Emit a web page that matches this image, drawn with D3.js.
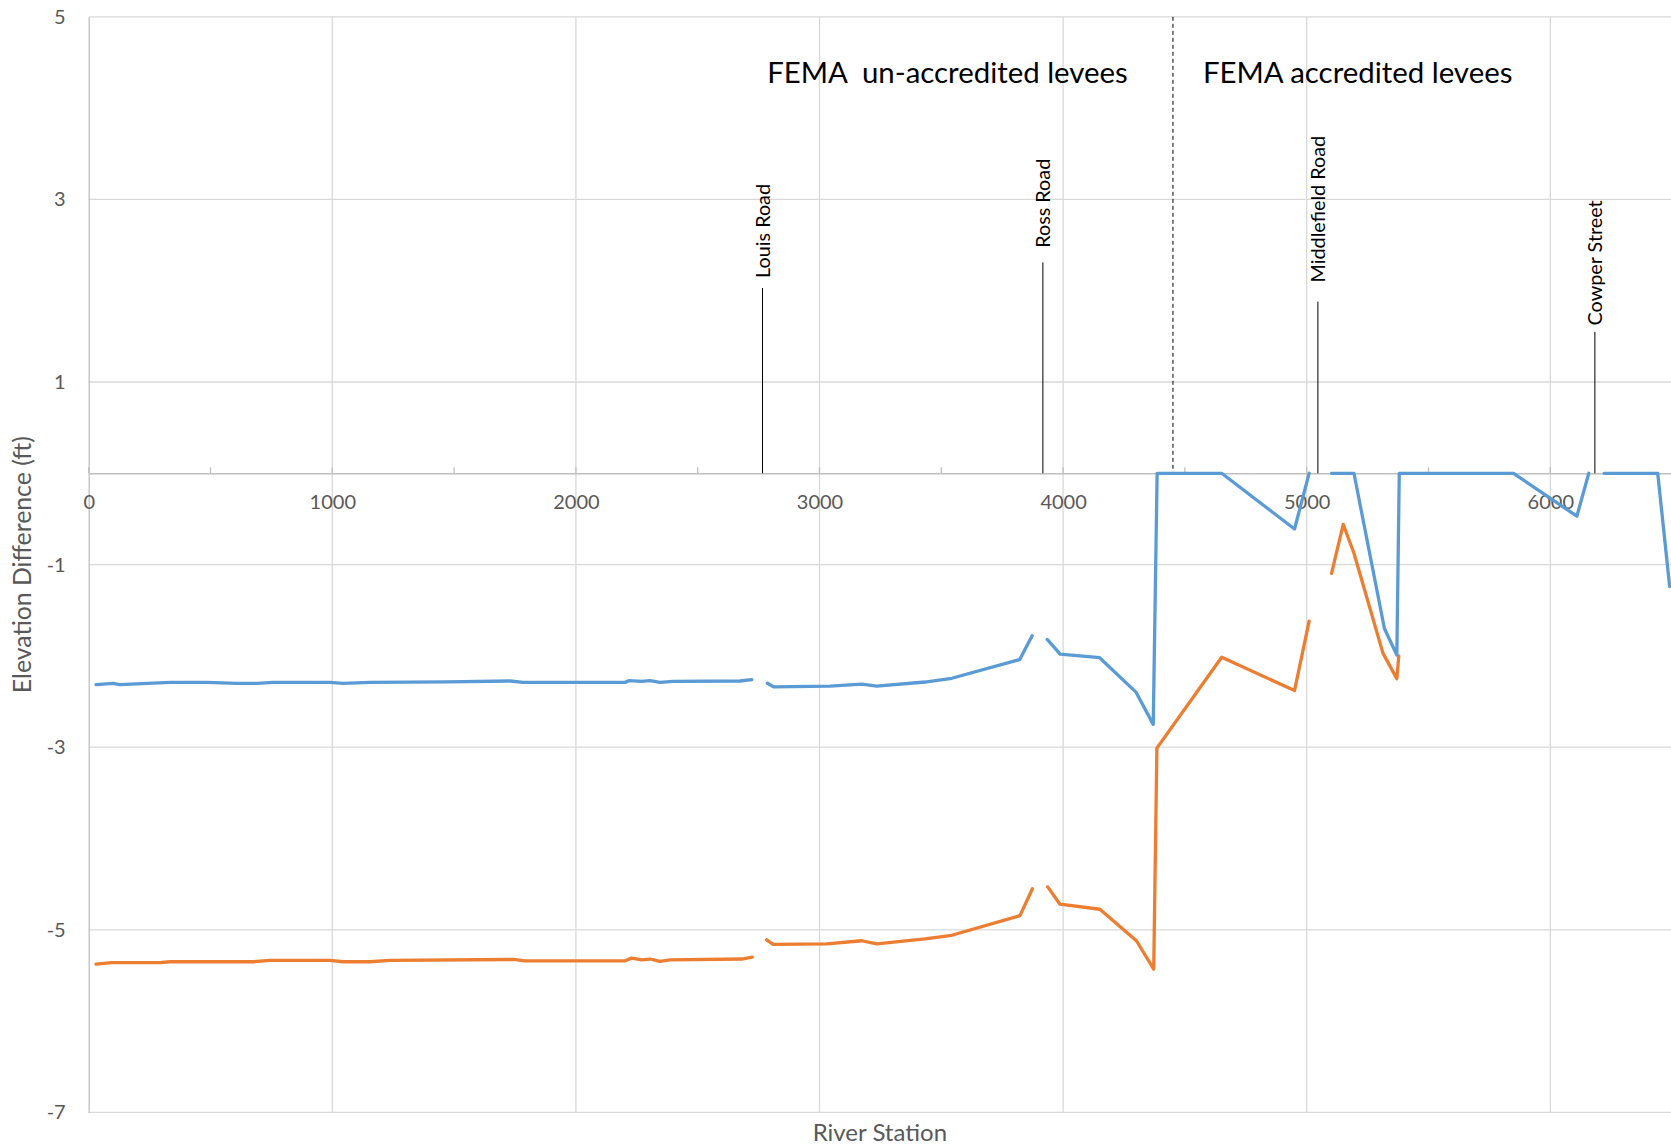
<!DOCTYPE html>
<html>
<head>
<meta charset="utf-8">
<script src="https://cdn.jsdelivr.net/npm/d3@7/dist/d3.min.js"></script>
<style>
  html, body { margin: 0; padding: 0; background: #ffffff; }
  svg { display: block; font-family: Lato, "Open Sans", sans-serif; }
</style>
</head>
<body>
<svg id="chart" width="1671" height="1148"></svg>
<script>
// Elevation difference along the river (ft); null marks a break in the profile
const upperStations = [30, 101, 128, 334, 484, 607, 690, 758, 990, 1045,
  1155, 1470, 1729, 1784, 2202, 2219, 2270, 2304, 2345, 2400,
  2674, 2722, 2754, 2786, 2813, 3043, 3173, 3235, 3433, 3543,
  3822, 3873, 3904, 3935, 3988, 4150, 4300, 4370, 4386, 4651,
  4950, 5010, 5056, 5102, 5194, 5319, 5370, 5380, 5849, 6109,
  6158, 6190, 6221, 6441, 6490];
const upperValues = [-2.315, -2.30, -2.315, -2.29, -2.29, -2.30, -2.30, -2.29, -2.29, -2.30,
  -2.29, -2.285, -2.275, -2.29, -2.29, -2.27, -2.28, -2.27, -2.29, -2.28,
  -2.275, -2.26, null, -2.30, -2.34, -2.33, -2.31, -2.33, -2.286, -2.245,
  -2.04, -1.78, null, -1.82, -1.98, -2.02, -2.40, -2.75, 0, 0,
  -0.61, 0, null, 0, 0, -1.70, -1.99, 0, 0, -0.47,
  0, null, 0, 0, -1.24];

const lowerStations = [30, 94, 293, 334, 676, 744, 990, 1045, 1155, 1237,
  1743, 1791, 2202, 2229, 2270, 2304, 2345, 2386, 2681, 2724,
  2754, 2783, 2810, 3030, 3173, 3235, 3433, 3543, 3823, 3874,
  3905, 3937, 3987, 4151, 4301, 4372, 4385, 4651, 4950, 5010,
  5056, 5102, 5150, 5194, 5313, 5370, 5378];
const lowerValues = [-5.375, -5.36, -5.36, -5.35, -5.35, -5.335, -5.335, -5.35, -5.35, -5.335,
  -5.325, -5.34, -5.34, -5.31, -5.33, -5.32, -5.345, -5.33, -5.32, -5.30,
  null, -5.11, -5.16, -5.155, -5.12, -5.155, -5.10, -5.06, -4.845, -4.55,
  null, -4.53, -4.72, -4.775, -5.12, -5.43, -3.01, -2.015, -2.38, -1.62,
  null, -1.095, -0.56, -0.876, -1.97, -2.25, -2.0];

// Axis ticks
const xTickValues = [0, 1000, 2000, 3000, 4000, 5000, 6000];
const xMinorTicks = [500, 1500, 2500, 3500, 4500, 5500, 6500];
const yTickValues = [5, 3, 1, -1, -3, -5, -7];

// Road crossings: name, river station, leader top and label start (ft)
const roadNames = ["Louis Road", "Ross Road", "Middlefield Road", "Cowper Street"];
const roadStations = [2766, 3917, 5046, 6183];
const roadLeaderTop = [2.03, 2.31, 1.88, 1.55];
const roadLabelStart = [2.14, 2.47, 2.09, 1.62];

// Levee reaches and the boundary between them
const reachNames = ["FEMA  un-accredited levees", "FEMA accredited levees"];
const reachLabelStations = [2785, 4574];
const reachLabelLevel = 4.27;
const reachBoundary = 4451;

const svg = d3.select("#chart");
const plot = { left: 88.7, top: 16.8, bottom: 1112.4 };

const x = d3.scaleLinear().domain([0, 6500]).range([plot.left, plot.left + 6500 * 0.2436]);
const y = d3.scaleLinear().domain([-7, 5]).range([plot.bottom, plot.top]);

const gridColor = "#d9d9d9";
const axisColor = "#bfbfbf";
const labelColor = "#595959";
const plainNumber = d => String(d);

// Horizontal gridlines
svg.append("g").selectAll("line").data(yTickValues).join("line")
  .attr("x1", x(0)).attr("x2", x(6500))
  .attr("y1", d => y(d)).attr("y2", d => y(d))
  .attr("stroke", gridColor).attr("stroke-width", 1.3);

// Vertical gridlines
svg.append("g").selectAll("line").data(xTickValues.slice(1)).join("line")
  .attr("x1", d => x(d)).attr("x2", d => x(d))
  .attr("y1", y(5)).attr("y2", y(-7))
  .attr("stroke", gridColor).attr("stroke-width", 1.3);

// Left value axis
const yAxis = d3.axisLeft(y).tickValues(yTickValues).tickSize(0).tickPadding(23)
  .tickFormat(plainNumber);
const gy = svg.append("g").attr("transform", `translate(${x(0)},0)`).call(yAxis);
gy.select(".domain").attr("stroke", axisColor).attr("stroke-width", 1.3);
gy.selectAll("text").attr("fill", labelColor).style("font-size", "20px")
  .style("font-family", "Lato, sans-serif");

// Station axis crossing at zero
const xAxis = d3.axisBottom(x).tickValues(xTickValues).tickSize(0).tickPadding(22)
  .tickFormat(plainNumber);
const gx = svg.append("g").attr("transform", `translate(0,${y(0)})`).call(xAxis);
gx.select(".domain").attr("stroke", axisColor).attr("stroke-width", 1.5);
gx.selectAll("text").attr("fill", labelColor).style("font-size", "20px")
  .style("font-family", "Lato, sans-serif");

// Tick marks rising from the zero axis
svg.append("g").selectAll("line").data(xTickValues.concat(xMinorTicks)).join("line")
  .attr("x1", d => x(d)).attr("x2", d => x(d))
  .attr("y1", y(0)).attr("y2", y(0) - 6)
  .attr("stroke", axisColor).attr("stroke-width", 1.3);

// Boundary between levee reaches
svg.append("line")
  .attr("x1", x(reachBoundary)).attr("x2", x(reachBoundary))
  .attr("y1", y(5)).attr("y2", y(0))
  .attr("stroke", "#000").attr("stroke-width", 1)
  .attr("stroke-dasharray", "4,3");

// Road leader lines and labels
const roads = roadNames.map((name, i) => ({
  name, station: roadStations[i], top: roadLeaderTop[i], start: roadLabelStart[i]
}));
svg.append("g").selectAll("line").data(roads).join("line")
  .attr("x1", d => x(d.station)).attr("x2", d => x(d.station))
  .attr("y1", d => y(d.top)).attr("y2", y(0))
  .attr("stroke", "#000").attr("stroke-width", 1);
svg.append("g").selectAll("text").data(roads).join("text")
  .attr("transform", d => `translate(${x(d.station)},${y(d.start)}) rotate(-90)`)
  .attr("dy", "0.36em")
  .attr("fill", "#000")
  .style("font-size", "19.8px")
  .text(d => d.name);

// Reach titles
svg.append("g").selectAll("text").data(reachNames).join("text")
  .attr("x", (d, i) => x(reachLabelStations[i]))
  .attr("y", y(reachLabelLevel))
  .attr("fill", "#000")
  .style("font-size", "29.4px")
  .style("white-space", "pre")
  .text(d => d);

// Profiles
const line = d3.line()
  .defined(d => d.v !== null)
  .x(d => x(d.s))
  .y(d => y(d.v));

const lower = lowerStations.map((s, i) => ({ s, v: lowerValues[i] }));
const upper = upperStations.map((s, i) => ({ s, v: upperValues[i] }));

svg.append("path").datum(lower)
  .attr("d", line).attr("fill", "none")
  .attr("stroke", "#ed7d31").attr("stroke-width", 3.3)
  .attr("stroke-linejoin", "round").attr("stroke-linecap", "round");
svg.append("path").datum(upper)
  .attr("d", line).attr("fill", "none")
  .attr("stroke", "#5b9bd5").attr("stroke-width", 3.3)
  .attr("stroke-linejoin", "round").attr("stroke-linecap", "round");

// Axis titles
svg.append("text")
  .attr("transform", `translate(31,${(plot.top + plot.bottom) / 2}) rotate(-90)`)
  .attr("text-anchor", "middle")
  .attr("fill", labelColor)
  .style("font-size", "24.8px")
  .text("Elevation Difference (ft)");
svg.append("text")
  .attr("x", (plot.left + 1671) / 2)
  .attr("y", 1141)
  .attr("text-anchor", "middle")
  .attr("fill", labelColor)
  .style("font-size", "24px")
  .text("River Station");
</script>
</body>
</html>
